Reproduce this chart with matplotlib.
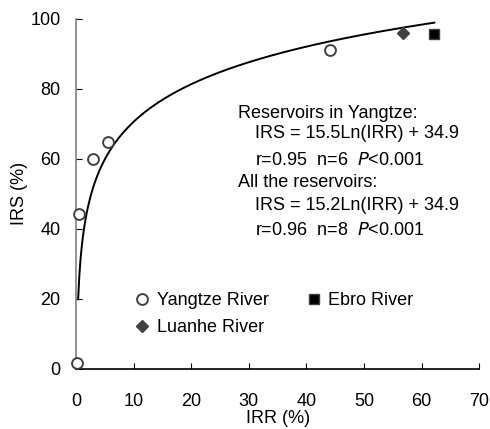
import numpy as np
import matplotlib
matplotlib.use('Agg')
import matplotlib.pyplot as plt

plt.rcParams['font.family'] = ['Liberation Sans', 'DejaVu Sans']

# data
yangtze_irr = [0.1, 0.46, 3.0, 5.6, 44.1]
yangtze_irs = [1.6, 44.2, 60.0, 64.7, 91.0]
luanhe_irr = [56.8]
luanhe_irs = [96.1]
ebro_irr = [62.2]
ebro_irs = [95.7]

# log fit shown on the chart
fit_a = 15.5
fit_b = 34.9
fit_x = np.linspace(0.38, 62.2, 300)
fit_y = fit_a * np.log(fit_x) + fit_b

fig = plt.figure(figsize=(4.9, 4.29), dpi=100)
ax = fig.add_axes([0.155, 0.140, 0.823, 0.816])

ax.plot(fit_x, fit_y, color='black', lw=1.4, zorder=2)
ax.plot(yangtze_irr, yangtze_irs, 'o', ms=7.8, mfc='white', mec='#404040',
        mew=1.4, ls='none', label='Yangtze River', clip_on=False, zorder=3)
ax.plot(luanhe_irr, luanhe_irs, 'D', ms=6.5, color='#404040', ls='none',
        label='Luanhe River', clip_on=False, zorder=3)
ax.plot(ebro_irr, ebro_irs, 's', ms=7, mfc='black', mec='#404040', mew=1,
        ls='none', label='Ebro River', clip_on=False, zorder=3)

ax.set_xlim(0, 70)
ax.set_ylim(0, 100)
ax.set_xticks(range(0, 71, 10))
ax.set_yticks(range(0, 101, 20))
ax.tick_params(direction='in', length=4, labelsize=13)
ax.tick_params(axis='x', pad=17)
ax.tick_params(axis='y', pad=11)
ax.spines['top'].set_visible(False)
ax.spines['right'].set_visible(False)
ax.spines['left'].set_color('#808080')
ax.spines['left'].set_linewidth(1.2)
ax.spines['bottom'].set_linewidth(1.2)
ax.set_xlabel('IRR (%)', fontsize=13, labelpad=0)
ax.set_ylabel('IRS (%)', fontsize=13, labelpad=2)

leg = ax.legend(ncol=2, frameon=False, fontsize=13, loc='upper left',
                bbox_to_anchor=(0.12, 0.24), handletextpad=0.2,
                columnspacing=1.9, labelspacing=0.55, handlelength=1.2,
                borderaxespad=0)

txt = dict(fontsize=13, transform=ax.transAxes, va='center', ha='left')
ax.text(0.402, 0.73, 'Reservoirs in Yangtze:', **txt)
ax.text(0.444, 0.672, 'IRS = 15.5Ln(IRR) + 34.9', **txt)
ax.text(0.444, 0.596, r'r=0.95  n=6  $\it{P}$<0.001', **txt)
ax.text(0.402, 0.533, 'All the reservoirs:', **txt)
ax.text(0.444, 0.468, 'IRS = 15.2Ln(IRR) + 34.9', **txt)
ax.text(0.444, 0.396, r'r=0.96  n=8  $\it{P}$<0.001', **txt)

fig.savefig('out.png', dpi=100)
